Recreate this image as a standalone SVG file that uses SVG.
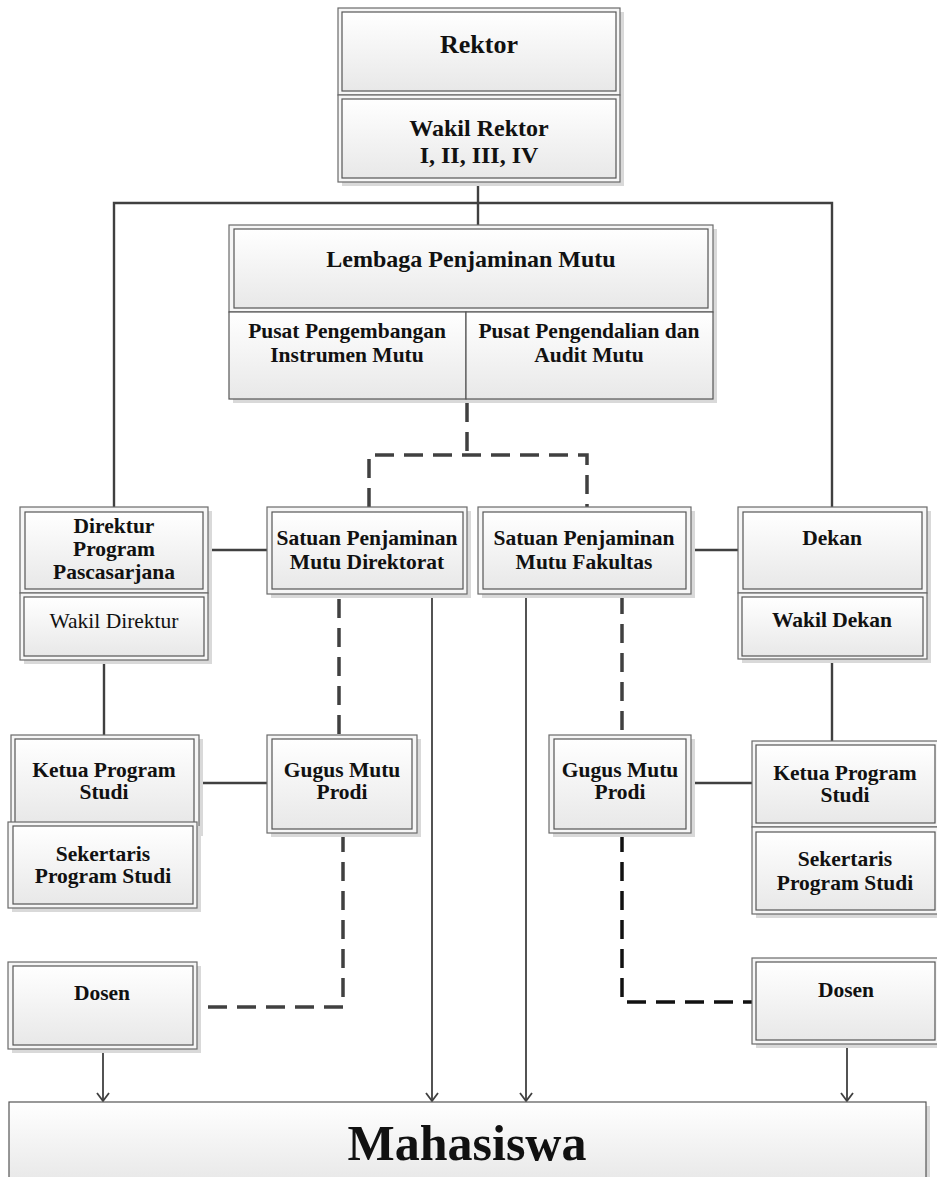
<svg xmlns="http://www.w3.org/2000/svg" width="937" height="1177" viewBox="0 0 937 1177">
<defs>
<linearGradient id="gr" x1="0" y1="0" x2="0" y2="1">
<stop offset="0" stop-color="#ffffff"/>
<stop offset="1" stop-color="#e8e8e8"/>
</linearGradient>
<marker id="arr" viewBox="0 0 10 14" refX="9" refY="7" markerWidth="10" markerHeight="14" markerUnits="userSpaceOnUse" orient="auto">
<path d="M1,1 L9,7 L1,13" fill="none" stroke="#404040" stroke-width="1.8"/>
</marker>
<style>
.sh{fill:#d9d9d9}
.out{fill:#f6f6f6;stroke:#6a6a6a;stroke-width:1.2}
.in{fill:url(#gr);stroke:#555;stroke-width:1.2}
.t{font-family:"Liberation Serif",serif;font-weight:bold;fill:#111;text-anchor:middle;font-size:21.5px}
.r{font-weight:normal}
.big{font-size:24px}
.con{fill:none;stroke:#404040;stroke-width:2.4}
.arw{fill:none;stroke:#404040;stroke-width:1.8}
.dash{fill:none;stroke:#404040;stroke-width:3.5;stroke-dasharray:19 10}
.dashk{fill:none;stroke:#111;stroke-width:3.5;stroke-dasharray:19 10}
</style>
</defs>
<rect width="937" height="1177" fill="#ffffff"/>

<g id="connectors">
<path class="con" d="M114,507 V203 H832 V507 M478,182 V225"/>
<path class="con" d="M208,550 H267 M691,550 H738 M104,660 V735 M199,783 H267 M691,783 H752 M832,659 V741"/>
<path class="dash" d="M467,403 V455 M369,507 V455 H587 V507"/>
<path class="dash" d="M339,599 V735 M622,595 V735"/>
<path class="dash" d="M343,833 V1007 H197"/>
<path class="dashk" d="M622,833 V1002 H752"/>
<path class="arw" d="M103,1049 V1101" marker-end="url(#arr)"/>
<path class="arw" d="M432,594 V1101" marker-end="url(#arr)"/>
<path class="arw" d="M526,594 V1101" marker-end="url(#arr)"/>
<path class="arw" d="M847,1045 V1101" marker-end="url(#arr)"/>
</g>

<g id="rektor">
<rect class="sh" x="342" y="12" width="282" height="174"/>
<rect class="out" x="338" y="8" width="282" height="87"/>
<rect class="out" x="338" y="95" width="282" height="87"/>
<rect class="in" x="342" y="12" width="274" height="79"/>
<rect class="in" x="342" y="99" width="274" height="79"/>
<text class="t" x="479" y="53" style="font-size:26px">Rektor</text>
<text class="t big" x="479" y="136">Wakil Rektor</text>
<text class="t big" x="479" y="163">I, II, III, IV</text>
</g>

<g id="lpm">
<rect class="sh" x="233" y="229" width="484" height="174"/>
<rect class="out" x="229" y="225" width="484" height="87"/>
<rect class="in" x="229" y="312" width="237" height="87"/>
<rect class="in" x="466" y="312" width="247" height="87"/>
<rect class="in" x="234" y="229" width="474" height="79"/>
<text class="t big" x="471" y="267">Lembaga Penjaminan Mutu</text>
<text class="t" x="347" y="338">Pusat Pengembangan</text>
<text class="t" x="347" y="362">Instrumen Mutu</text>
<text class="t" x="589" y="338">Pusat Pengendalian dan</text>
<text class="t" x="589" y="362">Audit Mutu</text>
</g>

<g id="direktur">
<rect class="sh" x="24" y="511" width="188" height="153"/>
<rect class="out" x="20" y="507" width="188" height="86"/>
<rect class="out" x="20" y="593" width="188" height="67"/>
<rect class="in" x="25" y="512" width="178" height="77"/>
<rect class="in" x="24" y="597" width="180" height="59"/>
<text class="t" x="114" y="533">Direktur</text>
<text class="t" x="114" y="556">Program</text>
<text class="t" x="114" y="579">Pascasarjana</text>
<text class="t r" x="114" y="628">Wakil Direktur</text>
</g>

<g id="spm-direktorat">
<rect class="sh" x="271" y="511" width="200" height="87"/>
<rect class="out" x="267" y="507" width="200" height="87"/>
<rect class="in" x="272" y="512" width="191" height="77"/>
<text class="t" x="367" y="545">Satuan Penjaminan</text>
<text class="t" x="367" y="569">Mutu Direktorat</text>
</g>

<g id="spm-fakultas">
<rect class="sh" x="482" y="511" width="213" height="87"/>
<rect class="out" x="478" y="507" width="213" height="87"/>
<rect class="in" x="483" y="512" width="203" height="77"/>
<text class="t" x="584" y="545">Satuan Penjaminan</text>
<text class="t" x="584" y="569">Mutu Fakultas</text>
</g>

<g id="dekan">
<rect class="sh" x="742" y="511" width="189" height="152"/>
<rect class="out" x="738" y="507" width="189" height="86"/>
<rect class="out" x="738" y="593" width="189" height="66"/>
<rect class="in" x="743" y="512" width="179" height="77"/>
<rect class="in" x="742" y="597" width="181" height="59"/>
<text class="t" x="832" y="545">Dekan</text>
<text class="t" x="832" y="627">Wakil Dekan</text>
</g>

<g id="ketua-kiri">
<rect class="sh" x="15" y="739" width="188" height="97"/>
<rect class="out" x="11" y="735" width="188" height="97"/>
<rect class="in" x="15" y="739" width="179" height="84"/>
<text class="t" x="104" y="777">Ketua Program</text>
<text class="t" x="104" y="799">Studi</text>
</g>

<g id="sekertaris-kiri">
<rect class="sh" x="12" y="826" width="189" height="86"/>
<rect class="out" x="8" y="822" width="189" height="86"/>
<rect class="in" x="13" y="826" width="180" height="78"/>
<text class="t" x="103" y="861">Sekertaris</text>
<text class="t" x="103" y="883">Program Studi</text>
</g>

<g id="gugus-kiri">
<rect class="sh" x="271" y="739" width="150" height="98"/>
<rect class="out" x="267" y="735" width="150" height="98"/>
<rect class="in" x="272" y="739" width="140" height="90"/>
<text class="t" x="342" y="777">Gugus Mutu</text>
<text class="t" x="342" y="799">Prodi</text>
</g>

<g id="gugus-kanan">
<rect class="sh" x="553" y="739" width="142" height="98"/>
<rect class="out" x="549" y="735" width="142" height="98"/>
<rect class="in" x="554" y="739" width="132" height="90"/>
<text class="t" x="620" y="777">Gugus Mutu</text>
<text class="t" x="620" y="799">Prodi</text>
</g>

<g id="ketua-kanan">
<rect class="sh" x="756" y="745" width="188" height="173"/>
<rect class="out" x="752" y="741" width="188" height="86"/>
<rect class="out" x="752" y="827" width="188" height="87"/>
<rect class="in" x="756" y="745" width="179" height="78"/>
<rect class="in" x="756" y="832" width="179" height="78"/>
<text class="t" x="845" y="780">Ketua Program</text>
<text class="t" x="845" y="802">Studi</text>
<text class="t" x="845" y="866">Sekertaris</text>
<text class="t" x="845" y="890">Program Studi</text>
</g>

<g id="dosen-kiri">
<rect class="sh" x="12" y="966" width="189" height="87"/>
<rect class="out" x="8" y="962" width="189" height="87"/>
<rect class="in" x="13" y="966" width="180" height="79"/>
<text class="t" x="102" y="1000">Dosen</text>
</g>

<g id="dosen-kanan">
<rect class="sh" x="756" y="962" width="188" height="86"/>
<rect class="out" x="752" y="958" width="188" height="86"/>
<rect class="in" x="756" y="962" width="179" height="78"/>
<text class="t" x="846" y="997">Dosen</text>
</g>

<g id="mahasiswa">
<rect class="sh" x="13" y="1106" width="917" height="80"/>
<rect class="in" x="9" y="1102" width="917" height="80"/>
<text class="t" x="467" y="1160" style="font-size:50px">Mahasiswa</text>
</g>
</svg>
